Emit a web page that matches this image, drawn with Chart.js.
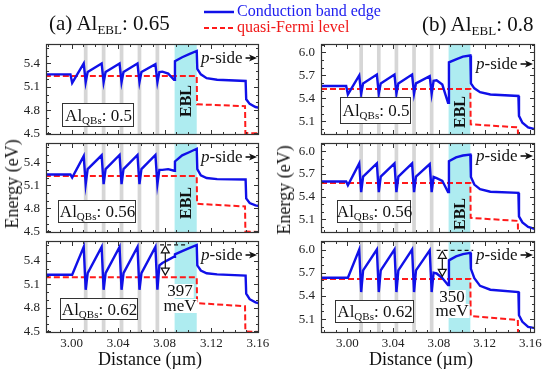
<!DOCTYPE html>
<html>
<head>
<meta charset="utf-8">
<title>Band diagrams</title>
<script src="https://cdn.jsdelivr.net/npm/chart.js@4.4.1/dist/chart.umd.min.js"></script>
<style>
  body { margin: 0; background: #fff; }
  #wrap { position: relative; width: 550px; height: 374px; overflow: hidden; font-family: "Liberation Serif", "Times New Roman", serif; color: #111; }
  #wrap canvas { position: absolute; left: 0; top: 0; }
  .lbl { position: absolute; white-space: nowrap; line-height: 1; }
  .lbl sub { font-size: 0.62em; vertical-align: -0.3em; line-height: 0; }
</style>
</head>
<body>
<div id="wrap">
  <canvas id="c0" width="550" height="374"></canvas>
  <canvas id="c1" width="550" height="374"></canvas>
  <canvas id="c2" width="550" height="374"></canvas>
  <canvas id="c3" width="550" height="374"></canvas>
  <canvas id="c4" width="550" height="374"></canvas>
  <canvas id="c5" width="550" height="374"></canvas>

  <div class="lbl" style="left:49px;top:13px;font-size:21px">(a) Al<sub>EBL</sub>: 0.65</div>
  <div class="lbl" style="left:422px;top:14px;font-size:21px">(b) Al<sub>EBL</sub>: 0.8</div>

  <svg style="position:absolute;left:200px;top:4px" width="40" height="32">
    <line x1="4" y1="8" x2="34" y2="8" stroke="#1010e8" stroke-width="2.5"/>
    <line x1="4" y1="24" x2="34" y2="24" stroke="#ff1a1a" stroke-width="2" stroke-dasharray="5,3"/>
  </svg>
  <div class="lbl" style="left:237px;top:3px;font-size:16px;color:#2020f0">Conduction band edge</div>
  <div class="lbl" style="left:237px;top:19px;font-size:16px;color:#f01818">quasi-Fermi level</div>

  <div class="lbl" style="left:12px;top:184px;font-size:18px;transform:translate(-50%,-50%) rotate(-90deg)">Energy (eV)</div>
  <div class="lbl" style="left:284px;top:190px;font-size:18px;transform:translate(-50%,-50%) rotate(-90deg)">Energy (eV)</div>
  <div class="lbl" style="left:150px;top:350px;font-size:18px;transform:translateX(-50%)">Distance (µm)</div>
  <div class="lbl" style="left:421px;top:350px;font-size:18px;transform:translateX(-50%)">Distance (µm)</div>
</div>

<script>
// tick labels
const xTicks = [3.00, 3.04, 3.08, 3.12, 3.16];
const yTicksA = [4.5, 4.8, 5.1, 5.4];
const yTicksB = [5.1, 5.4, 5.7, 6.0];

// quantum barriers (gray) and electron blocking layer (cyan), µm
const qbCenters = [3.0121, 3.0275, 3.0429, 3.0583, 3.0737];
const eblRange = [3.0885, 3.1075];

// conduction band edge, knots along distance (µm)
const xKnots = [2.977, 2.999, 3.0005,
  3.0104, 3.0121, 3.0138,
  3.0258, 3.0275, 3.0292,
  3.0412, 3.0429, 3.0446,
  3.0566, 3.0583, 3.0600,
  3.0720, 3.0737, 3.0754,
  3.0780, 3.0830, 3.0880,
  3.0888, 3.0950, 3.1010, 3.1075,
  3.1080, 3.1110, 3.1160, 3.1250, 3.1495,
  3.1500, 3.1530, 3.1580, 3.1650];

// (a) Al_EBL 0.65
const cbA1 = [5.26, 5.26, 5.15,
  5.40, 5.16, 5.29,
  5.40, 5.16, 5.29,
  5.40, 5.16, 5.29,
  5.40, 5.16, 5.29,
  5.39, 5.16, 5.29,
  5.295, 5.27, 5.19,
  5.43, 5.48, 5.52, 5.56,
  5.33, 5.26, 5.21, 5.19, 5.175,
  4.94, 4.88, 4.84, 4.82];
const cbA2 = [5.24, 5.24, 5.20,
  5.48, 5.115, 5.31,
  5.49, 5.115, 5.31,
  5.495, 5.115, 5.31,
  5.495, 5.115, 5.31,
  5.495, 5.115, 5.30,
  5.30, 5.31, 5.29,
  5.41, 5.49, 5.53, 5.575,
  5.31, 5.23, 5.195, 5.18, 5.175,
  4.93, 4.87, 4.84, 4.82];
const cbA3 = [5.22, 5.22, 5.22,
  5.575, 5.03, 5.24,
  5.575, 5.03, 5.24,
  5.575, 5.03, 5.24,
  5.575, 5.03, 5.24,
  5.575, 5.03, 5.34,
  5.37, 5.41, 5.45,
  5.48, 5.52, 5.56, 5.60,
  5.34, 5.275, 5.24, 5.225, 5.21,
  4.98, 4.91, 4.87, 4.84];

// (b) Al_EBL 0.8
const cbB1 = [5.56, 5.56, 5.45,
  5.70, 5.46, 5.595,
  5.71, 5.46, 5.595,
  5.71, 5.46, 5.595,
  5.71, 5.46, 5.595,
  5.69, 5.46, 5.63,
  5.635, 5.58, 5.34,
  5.87, 5.91, 5.945, 5.96,
  5.595, 5.53, 5.48, 5.45, 5.43,
  5.17, 5.08, 5.02, 4.99];
const cbB2 = [5.60, 5.60, 5.55,
  5.84, 5.46, 5.665,
  5.84, 5.46, 5.665,
  5.84, 5.46, 5.665,
  5.84, 5.46, 5.665,
  5.83, 5.46, 5.66,
  5.645, 5.61, 5.46,
  5.87, 5.92, 5.945, 5.957,
  5.66, 5.56, 5.50, 5.465, 5.45,
  5.14, 5.06, 5.00, 4.97];
const cbB3 = [5.634, 5.634, 5.634,
  6.00, 5.45, 5.73,
  6.00, 5.45, 5.73,
  6.00, 5.45, 5.73,
  6.00, 5.45, 5.73,
  5.99, 5.45, 5.70,
  5.69, 5.63, 5.54,
  5.86, 5.91, 5.94, 5.957,
  5.75, 5.63, 5.53, 5.48, 5.45,
  5.15, 5.065, 5.00, 4.98];

// quasi-Fermi level
const fermiX = [2.977, 3.1075, 3.1078, 3.149, 3.1493, 3.165];
const qfA1 = [5.24, 5.24, 4.875, 4.85, 4.505, 4.50];
const qfA2 = [5.22, 5.22, 4.86, 4.825, 4.50, 4.49];
const qfA3 = [5.19, 5.19, 4.86, 4.82, 4.50, 4.49];
const qfB1 = [5.52, 5.52, 5.06, 5.02, 4.80, 4.80];
const qfB2 = [5.58, 5.58, 5.12, 5.08, 4.80, 4.80];
const qfB3 = [5.62, 5.62, 5.14, 5.09, 4.80, 4.80];

// barrier height marks (bottom row)
const gapXA = [3.076, 3.100], gapEA = [5.60, 5.203];
const gapXB = [3.078, 3.110], gapEB = [5.99, 5.64];

const FONT = '"Liberation Serif", "Times New Roman", serif';
const Y_AXIS_W = 40, X_AXIS_H = 22;

const cols = [
  {left: 46, right: 259, xmin: 2.978, xmax: 3.161, ymin: 4.48, ymax: 5.65, yTicks: yTicksA},
  {left: 321, right: 535, xmin: 2.977, xmax: 3.164, ymin: 4.92, ymax: 6.11, yTicks: yTicksB}
];
const rows = [[44, 135], [143, 233], [241, 333]];

const panels = [
  {c: 0, r: 0, cb: cbA1, qf: qfA1, qb: '0.5', box: [62, 103, 71, 23], ebl: 101, ps: 63},
  {c: 0, r: 1, cb: cbA2, qf: qfA2, qb: '0.56', box: [58, 200, 77, 22], ebl: 203, ps: 162},
  {c: 0, r: 2, cb: cbA3, qf: qfA3, qb: '0.62', box: [60, 298, 77, 21], ps: 260,
    gap: {x: gapXA, e: gapEA, ax: 3.0805, t: '397', tx: 180, ty: [291, 306]}},
  {c: 1, r: 0, cb: cbB1, qf: qfB1, qb: '0.5', box: [340, 97, 70, 26], ebl: 112, ps: 69},
  {c: 1, r: 1, cb: cbB2, qf: qfB2, qb: '0.56', box: [337, 200, 73, 22], ebl: 214, ps: 161},
  {c: 1, r: 2, cb: cbB3, qf: qfB3, qb: '0.62', box: [335, 300, 78, 22], ps: 260,
    gap: {x: gapXB, e: gapEB, ax: 3.0830, t: '350', tx: 452, ty: [297, 311]}}
];

function line(ctx, x1, y1, x2, y2) {
  ctx.beginPath(); ctx.moveTo(x1, y1); ctx.lineTo(x2, y2); ctx.stroke();
}

function makeDecor(p) {
  return {
    id: 'decor',
    beforeDatasetsDraw(chart) {
      const {ctx, chartArea: a} = chart;
      const x = chart.scales.x;
      ctx.save();
      const e0 = x.getPixelForValue(eblRange[0]), e1 = x.getPixelForValue(eblRange[1]);
      ctx.fillStyle = '#aeecf0';
      ctx.fillRect(e0, a.top, e1 - e0, a.bottom - a.top);
      ctx.fillStyle = '#d6d6d6';
      qbCenters.forEach(c => {
        const l = x.getPixelForValue(c - 0.0016), r = x.getPixelForValue(c + 0.0016);
        ctx.fillRect(l, a.top, r - l, a.bottom - a.top);
      });
      ctx.restore();
    },
    afterDatasetsDraw(chart) {
      const {ctx, chartArea: a} = chart;
      const x = chart.scales.x, y = chart.scales.y;
      ctx.save();
      ctx.fillStyle = '#111';
      ctx.textBaseline = 'alphabetic';
      ctx.textAlign = 'left';

      // p-side ->
      let tx = a.left + 155;
      ctx.font = 'italic 17px ' + FONT;
      ctx.fillText('p', tx, p.ps);
      tx += ctx.measureText('p').width;
      ctx.font = '17px ' + FONT;
      ctx.fillText('-side', tx, p.ps);
      tx += ctx.measureText('-side').width;
      const ay = p.ps - 5;
      ctx.strokeStyle = '#111'; ctx.lineWidth = 1.6;
      line(ctx, tx + 3, ay, a.right - 8, ay);
      ctx.beginPath();
      ctx.moveTo(a.right - 2, ay); ctx.lineTo(a.right - 10, ay - 3.5); ctx.lineTo(a.right - 8, ay);
      ctx.lineTo(a.right - 10, ay + 3.5); ctx.closePath(); ctx.fill();

      // EBL label
      if (p.ebl) {
        const cx = (x.getPixelForValue(eblRange[0]) + x.getPixelForValue(eblRange[1])) / 2;
        ctx.save();
        ctx.translate(cx + 1, p.ebl);
        ctx.rotate(-Math.PI / 2);
        ctx.font = 'bold 16px ' + FONT;
        ctx.textAlign = 'center'; ctx.textBaseline = 'middle';
        ctx.fillText('EBL', 0, 0);
        ctx.restore();
      }

      // Al_QBs box
      const [bx, by, bw, bh] = p.box;
      ctx.fillStyle = '#fff';
      ctx.fillRect(bx, by, bw, bh);
      ctx.strokeStyle = '#333'; ctx.lineWidth = 1;
      ctx.strokeRect(bx + 0.5, by + 0.5, bw, bh);
      const parts = [['Al', 17, 0], ['QBs', 11, 3], [': ' + p.qb, 17, 0]];
      let w = 0;
      parts.forEach(q => { ctx.font = q[1] + 'px ' + FONT; w += ctx.measureText(q[0]).width; });
      let px = bx + bw / 2 - w / 2 + 1;
      const base = by + bh / 2 + 6;
      ctx.fillStyle = '#111';
      parts.forEach(q => {
        ctx.font = q[1] + 'px ' + FONT;
        ctx.fillText(q[0], px, base + q[2]);
        px += ctx.measureText(q[0]).width;
      });

      // barrier height arrow and label
      if (p.gap) {
        const g = p.gap;
        const gx = x.getPixelForValue(g.ax);
        const t = y.getPixelForValue(g.e[0]), b = y.getPixelForValue(g.e[1]);
        ctx.strokeStyle = '#111'; ctx.lineWidth = 1.2;
        line(ctx, gx, t + 8, gx, b - 8);
        ctx.beginPath();
        ctx.moveTo(gx, t + 1); ctx.lineTo(gx - 4, t + 8); ctx.lineTo(gx + 4, t + 8); ctx.closePath();
        ctx.moveTo(gx, b - 1); ctx.lineTo(gx - 4, b - 8); ctx.lineTo(gx + 4, b - 8); ctx.closePath();
        ctx.stroke();
        ctx.font = '17px ' + FONT;
        ctx.textAlign = 'center'; ctx.textBaseline = 'middle';
        [g.t, 'meV'].forEach((s, i) => {
          const sw = ctx.measureText(s).width;
          ctx.fillStyle = '#fff';
          ctx.fillRect(g.tx - sw / 2 - 1, g.ty[i] - 7, sw + 2, 14);
          ctx.fillStyle = '#111';
          ctx.fillText(s, g.tx, g.ty[i] + 1);
        });
      }
      ctx.restore();
    },
    afterDraw(chart) {
      const {ctx, chartArea: a} = chart;
      const x = chart.scales.x, y = chart.scales.y;
      ctx.save();
      ctx.strokeStyle = '#333'; ctx.lineWidth = 1;
      for (let i = 298; i <= 316; i++) {
        const v = Math.round(x.getPixelForValue(i / 100)) + 0.5;
        if (v < a.left + 1 || v > a.right - 1) continue;
        const len = (i - 300) % 4 === 0 ? 5 : 3;
        line(ctx, v, a.bottom, v, a.bottom - len);
        line(ctx, v, a.top, v, a.top + len);
      }
      for (let i = 44; i <= 62; i++) {
        const v = Math.round(y.getPixelForValue(i / 10)) + 0.5;
        if (v < a.top + 1 || v > a.bottom - 1) continue;
        const len = (i - 45) % 3 === 0 ? 5 : 3;
        line(ctx, a.left, v, a.left + len, v);
        line(ctx, a.right, v, a.right - len, v);
      }
      ctx.lineWidth = 1.2;
      ctx.strokeRect(a.left + 0.5, a.top + 0.5, a.right - a.left - 1, a.bottom - a.top - 1);
      ctx.restore();
    }
  };
}

panels.forEach((p, k) => {
  const col = cols[p.c], row = rows[p.r];
  const showX = p.r === 2;
  const xh = showX ? X_AXIS_H : 0;
  const datasets = [
    {
      data: xKnots.map((v, i) => ({x: v, y: p.cb[i]})),
      showLine: true, borderColor: '#1010e8', borderWidth: 2.4,
      pointRadius: 0, tension: 0
    },
    {
      data: fermiX.map((v, i) => ({x: v, y: p.qf[i]})),
      showLine: true, borderColor: '#ff1a1a', borderWidth: 2, borderDash: [6, 3],
      pointRadius: 0, tension: 0
    }
  ];
  if (p.gap) {
    datasets.push({
      data: p.gap.x.map(v => ({x: v, y: p.gap.e[0]})),
      showLine: true, borderColor: '#111', borderWidth: 1.2, borderDash: [4, 3],
      pointRadius: 0
    });
  }
  new Chart(document.getElementById('c' + k), {
    type: 'scatter',
    data: {datasets},
    options: {
      responsive: false,
      animation: false,
      events: [],
      layout: {padding: {left: col.left - Y_AXIS_W, right: 550 - col.right, top: row[0], bottom: 374 - row[1] - xh}},
      plugins: {legend: {display: false}, tooltip: {enabled: false}},
      scales: {
        x: {
          type: 'linear', min: col.xmin, max: col.xmax,
          grid: {display: false, drawTicks: false},
          border: {display: false},
          ticks: {
            display: showX, padding: 3, color: '#222', autoSkip: false, maxRotation: 0,
            font: {family: FONT, size: 13},
            callback: v => v.toFixed(2)
          },
          afterBuildTicks: s => { s.ticks = xTicks.map(v => ({value: v})); },
          afterFit: s => { s.height = xh; }
        },
        y: {
          type: 'linear', min: col.ymin, max: col.ymax,
          grid: {display: false, drawTicks: false},
          border: {display: false},
          ticks: {
            padding: 6, color: '#222', autoSkip: false,
            font: {family: FONT, size: 13},
            callback: v => v.toFixed(1)
          },
          afterBuildTicks: s => { s.ticks = col.yTicks.map(v => ({value: v})); },
          afterFit: s => { s.width = Y_AXIS_W; }
        }
      }
    },
    plugins: [makeDecor(p)]
  });
});
</script>
</body>
</html>
